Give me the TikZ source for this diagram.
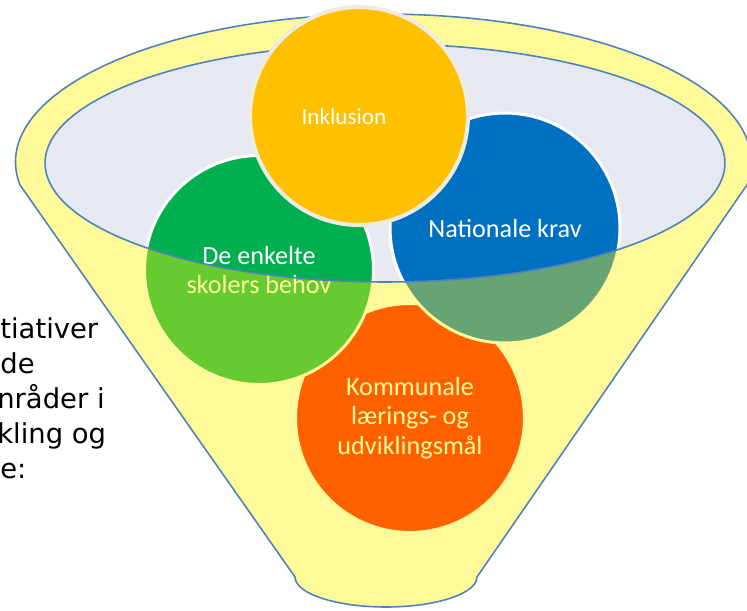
\documentclass[tikz,border=0pt]{standalone}
\usepackage{fontspec}
\setmainfont{Carlito}
\newfontfamily\sidefont{DejaVu Sans}

\definecolor{funnelblue}{RGB}{79,129,189}
\definecolor{bowlgrey}{RGB}{230,233,242}
\definecolor{inklgold}{RGB}{255,192,0}
\definecolor{inklring}{RGB}{238,236,225}
\definecolor{skolegreen}{RGB}{0,176,80}
\definecolor{natblue}{RGB}{0,112,192}
\definecolor{kommred}{RGB}{255,0,0}

\tikzset{
  bubble/.style={circle, draw=white, line width=1.7pt, text=white, align=center,
    inner sep=0pt, minimum size=#1,
    font=\fontsize{14.9pt}{16.8pt}\selectfont},
  funnelline/.style={draw=funnelblue, line width=0.9pt},
  sidetext/.style={anchor=base west, inner sep=0pt,
    font=\sidefont\fontsize{15.6pt}{18pt}\selectfont}
}

\begin{document}
\begin{tikzpicture}[x=0.02cm, y=0.02cm]
\useasboundingbox (0,0) rectangle (747,-610);

% bowl of the funnel
\fill[bowlgrey] (385,-163) ellipse [x radius=6.8cm, y radius=2.38cm];

\node[bubble=4.58cm, fill=kommred] (komm) at (410,-418)
  {Kommunale\\lærings- og\\udviklingsmål};
\node[bubble=4.58cm, fill=skolegreen] (skoler) at (259,-270)
  {De enkelte\\skolers behov};
\node[bubble=4.6cm, fill=natblue] (nat) at (505,-228) {Nationale krav};

% yellow body, the bowl left out
\fill[yellow, fill opacity=0.4, even odd rule]
  (20,-185) arc [start angle=188.94, end angle=-8.94, x radius=7.36cm, y radius=2.96cm]
  -- (477,-577) arc [start angle=0, end angle=-180, x radius=1.82cm, y radius=0.6cm]
  -- cycle
  (385,-163) ellipse [x radius=6.8cm, y radius=2.38cm];

\draw[funnelline]
  (20,-185) arc [start angle=188.94, end angle=-8.94, x radius=7.36cm, y radius=2.96cm]
  -- (477,-577) arc [start angle=0, end angle=-180, x radius=1.82cm, y radius=0.6cm]
  -- cycle;
\draw[funnelline] (385,-163) ellipse [x radius=6.8cm, y radius=2.38cm];

\node[bubble=4.36cm, fill=inklgold, draw=inklring, line width=2.3pt] (inkl) at (359,-116) {};
\node[text=white, font=\fontsize{13.2pt}{15pt}\selectfont] (inkltext) at (344,-117) {Inklusion};

% text cut at the left edge
\node[sidetext] (side1) at (0,-338) {tiativer};
\node[sidetext] (side2) at (0,-373) {de};
\node[sidetext] (side3) at (-3,-408) {nråder i};
\node[sidetext] (side4) at (-3,-443) {kling og};
\node[sidetext] (side5) at (0,-478) {e:};
\end{tikzpicture}
\end{document}
